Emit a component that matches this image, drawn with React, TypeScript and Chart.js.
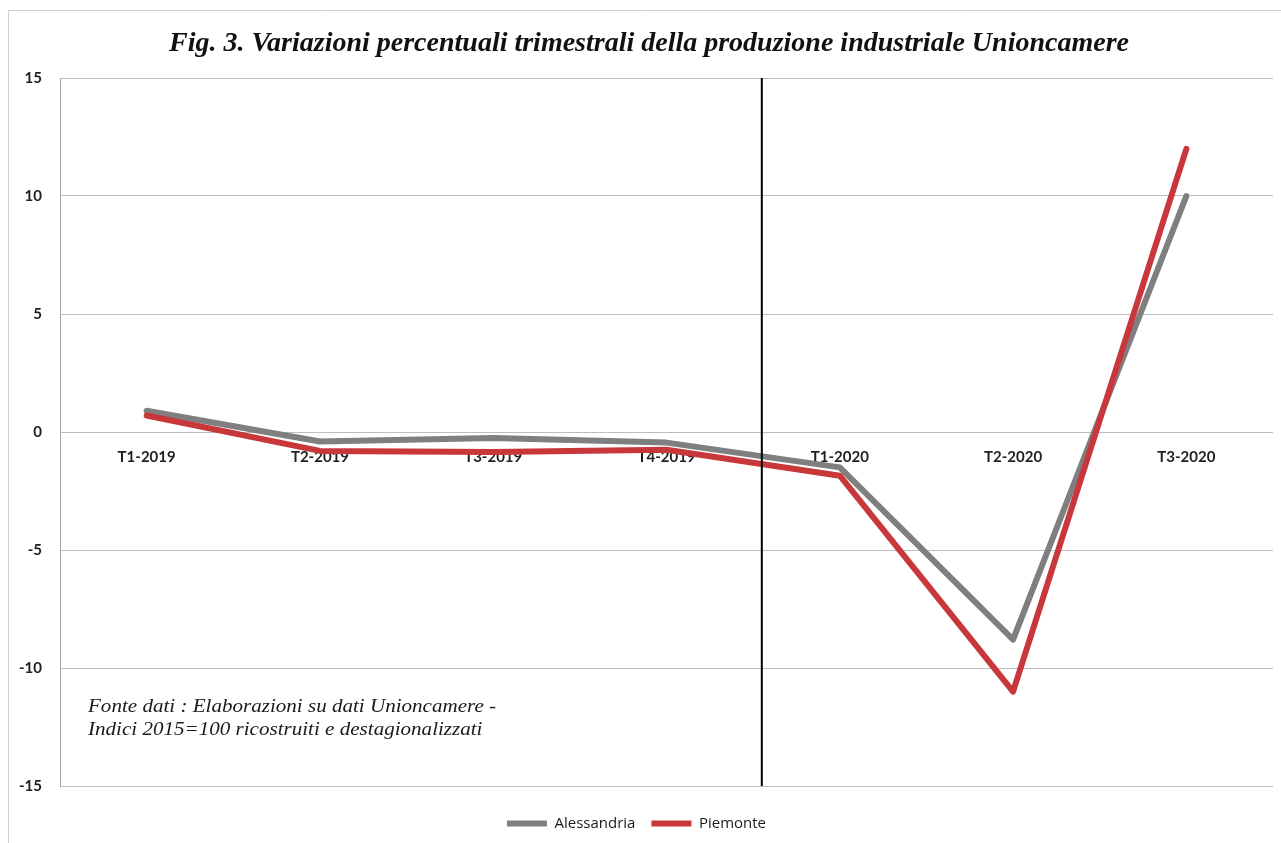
import React, { useEffect, useRef } from "react";
import { Chart, registerables } from "chart.js";

Chart.register(...registerables);

// Quarterly percentage changes of industrial production
const quarters = ["T1-2019", "T2-2019", "T3-2019", "T4-2019", "T1-2020", "T2-2020", "T3-2020"];
const alessandria = [0.9, -0.4, -0.25, -0.45, -1.5, -8.8, 10.0];
const piemonte = [0.7, -0.8, -0.85, -0.75, -1.85, -11.0, 12.0];
const yRange = { min: -15, max: 15, step: 5 };

const titleText = "Fig. 3. Variazioni percentuali trimestrali della produzione industriale Unioncamere";
const sourceLines = [
  "Fonte dati : Elaborazioni su dati Unioncamere -",
  "Indici 2015=100 ricostruiti e destagionalizzati",
];

const GRAY = "#7f7f7f";
const RED = "#c8383b";
const TICK_FONT = { family: "Lato, 'Open Sans', sans-serif", size: 15, weight: "bold" as const };

// Outer frame, heading, divider between 2019 and 2020, and source note
const decorations = {
  id: "decorations",
  beforeDraw(chart: Chart) {
    const { ctx } = chart;
    ctx.save();
    ctx.fillStyle = "#ffffff";
    ctx.fillRect(0, 0, chart.width, chart.height);
    ctx.strokeStyle = "#cfcfcf";
    ctx.lineWidth = 1;
    ctx.beginPath();
    ctx.moveTo(8.5, chart.height);
    ctx.lineTo(8.5, 10.5);
    ctx.lineTo(chart.width, 10.5);
    ctx.stroke();
    ctx.restore();
  },
  afterDatasetsDraw(chart: Chart, _args: unknown, opts: { dividerAt: number }) {
    const { ctx, chartArea } = chart;
    const x = chart.scales.x.getPixelForValue(opts.dividerAt);
    ctx.save();
    ctx.strokeStyle = "#000000";
    ctx.lineWidth = 2;
    ctx.beginPath();
    ctx.moveTo(x, chartArea.top);
    ctx.lineTo(x, chartArea.bottom);
    ctx.stroke();
    ctx.restore();
  },
  afterDraw(chart: Chart) {
    const { ctx, chartArea } = chart;
    ctx.save();
    ctx.fillStyle = "#111111";
    ctx.font = "italic bold 28px 'Liberation Serif', 'Times New Roman', serif";
    ctx.textAlign = "center";
    ctx.textBaseline = "alphabetic";
    ctx.fillText(titleText, 649, 51);
    ctx.restore();

    ctx.save();
    ctx.fillStyle = "#1a1a1a";
    ctx.font = "italic 18px 'Liberation Serif', 'Times New Roman', serif";
    ctx.textAlign = "left";
    ctx.textBaseline = "alphabetic";
    // the note is set in a wide serif: stretch the text horizontally
    ctx.translate(chartArea.left + 28, 0);
    ctx.scale(1.17, 1);
    sourceLines.forEach((line, i) => {
      ctx.fillText(line, 0, 712 + i * 23);
    });
    ctx.restore();
  },
};

export default function App() {
  const canvasRef = useRef<HTMLCanvasElement | null>(null);

  useEffect(() => {
    const canvas = canvasRef.current;
    if (!canvas) return;
    const chart = new Chart(canvas, {
      type: "line",
      data: {
        labels: quarters,
        datasets: [
          {
            label: "Alessandria",
            data: alessandria,
            borderColor: GRAY,
            backgroundColor: GRAY,
            borderWidth: 6,
            pointRadius: 0,
            tension: 0,
            borderCapStyle: "round",
            borderJoinStyle: "round",
            order: 1,
          },
          {
            label: "Piemonte",
            data: piemonte,
            borderColor: RED,
            backgroundColor: RED,
            borderWidth: 6,
            pointRadius: 0,
            tension: 0,
            borderCapStyle: "round",
            borderJoinStyle: "round",
            order: 0,
          },
        ],
      },
      options: {
        responsive: false,
        animation: false,
        layout: { padding: { top: 78, left: 0, right: 8, bottom: 2 } },
        scales: {
          x: {
            type: "category",
            position: { y: 0 } as any,
            offset: true,
            z: 1,
            grid: { display: false, drawTicks: false },
            border: { display: false },
            ticks: { color: "#1f1f1f", font: TICK_FONT, padding: 16, maxRotation: 0, autoSkip: false },
          },
          y: {
            min: yRange.min,
            max: yRange.max,
            ticks: { stepSize: yRange.step, color: "#1f1f1f", font: TICK_FONT, padding: 18 },
            grid: { color: "#bdbdbd", lineWidth: 1, drawTicks: false },
            border: { display: true, color: "#a6a6a6", width: 1 },
            afterFit(scale) {
              scale.width = 60;
            },
          },
        },
        plugins: {
          title: { display: false },
          legend: {
            display: true,
            position: "bottom",
            labels: {
              usePointStyle: true,
              pointStyle: "line",
              pointStyleWidth: 40,
              padding: 16,
              color: "#1a1a1a",
              font: { family: "'Open Sans', Lato, sans-serif", size: 15 },
              sort: (a, b) => (a.datasetIndex ?? 0) - (b.datasetIndex ?? 0),
            },
            title: { display: true, text: "", padding: { top: 0, bottom: 2 }, font: { size: 10 } },
          },
          tooltip: { enabled: false },
          decorations: { dividerAt: 3.55 },
        } as any,
      },
      plugins: [decorations],
    });
    return () => chart.destroy();
  }, []);

  return (
    <div style={{ position: "fixed", left: 0, top: 0, width: 1281, height: 843, background: "#fff" }}>
      <canvas ref={canvasRef} width={1281} height={843} style={{ display: "block" }} />
    </div>
  );
}
